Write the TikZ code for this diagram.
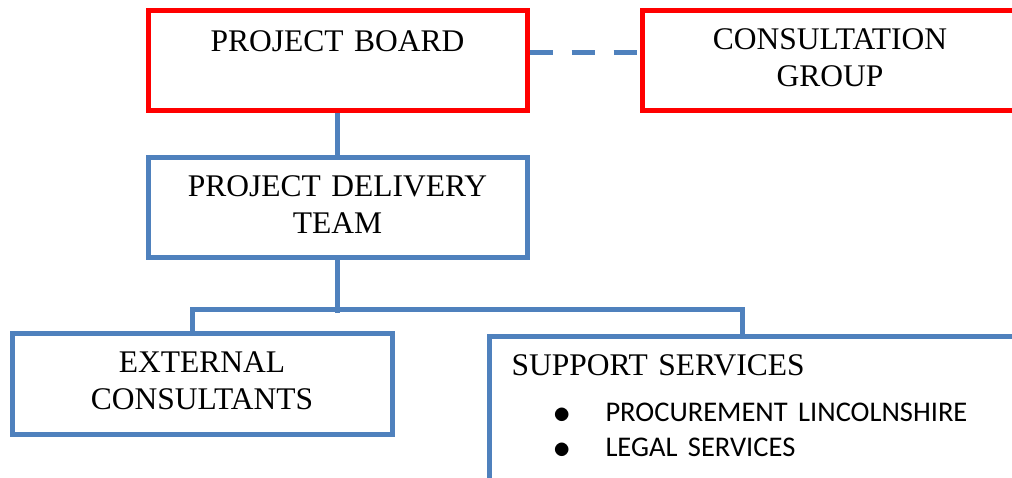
\documentclass[tikz,border=0pt]{standalone}
\usepackage{fontspec}
\setmainfont{Liberation Serif}
\newfontfamily\calfont{Carlito}
\usetikzlibrary{calc}
\definecolor{boxblue}{HTML}{4F81BD}
\definecolor{boxred}{HTML}{FF0000}
\newcommand{\bigbul}{\makebox[50pt][l]{\hspace{-2pt}\raisebox{-1.5pt}{\scalebox{1.4}{$\bullet$}}}}
\tikzset{
  x=1pt, y=1pt,
  basebox/.style={draw, line width=5pt, inner sep=0pt, align=center,
    font=\fontsize{31.5}{36.5}\selectfont, text=black},
  redbox/.style={basebox, draw=boxred},
  bluebox/.style={basebox, draw=boxblue},
  conn/.style={draw=boxblue, line width=5pt},
  dashconn/.style={conn, dash pattern=on 23pt off 19pt}
}
\begin{document}
\begin{tikzpicture}
\clip (0,0) rectangle (1012,-477);
\fill[white] (0,0) rectangle (1012,-477);
\node[redbox, anchor=north, text width=379pt, text height=41pt, text depth=59pt] (pb) at (337.5,-8) {PROJECT BOARD};
\node[redbox, anchor=north, text width=376pt, text height=39pt, text depth=61pt] (cg) at (830,-8) {CONSULTATION\\GROUP};
\node[bluebox, anchor=north, text width=379pt, text height=39pt, text depth=61pt] (pdt) at (337.5,-155) {PROJECT DELIVERY\\TEAM};
\node[bluebox, anchor=north, text width=380pt, text height=39pt, text depth=62pt] (ec) at (202,-331) {EXTERNAL\\CONSULTANTS};
\node[bluebox, anchor=north west, align=left, inner xsep=22pt, text width=560pt, text height=39pt, text depth=200pt] (ss) at (487,-334) {SUPPORT SERVICES\par
{\calfont\fontsize{28.5}{46}\selectfont\hspace*{44pt}\bigbul PROCUREMENT LINCOLNSHIRE\par}
{\calfont\fontsize{28.5}{35}\selectfont\hspace*{44pt}\bigbul LEGAL SERVICES\par}};
% connectors
\coordinate (pbdash) at ($(pb.north east)!0.42!(pb.south east)$);
\coordinate (cgdash) at ($(cg.north west)!0.42!(cg.south west)$);
\draw[dashconn] (pbdash) -- (cgdash);
\draw[conn] (pb.south) -- (pdt.north);
\coordinate (bus) at ($(pdt.south)+(0,-49)$);
\coordinate (ecin) at ($(ec.north west)!0.476!(ec.north east)$);
\coordinate (ssin) at ($(ss.north west)+(255,0)$);
\draw[conn] (pdt.south) -- ($(bus)+(0,-4)$);
\draw[conn] (ecin) |- (bus) -| (ssin);
\end{tikzpicture}
\end{document}
